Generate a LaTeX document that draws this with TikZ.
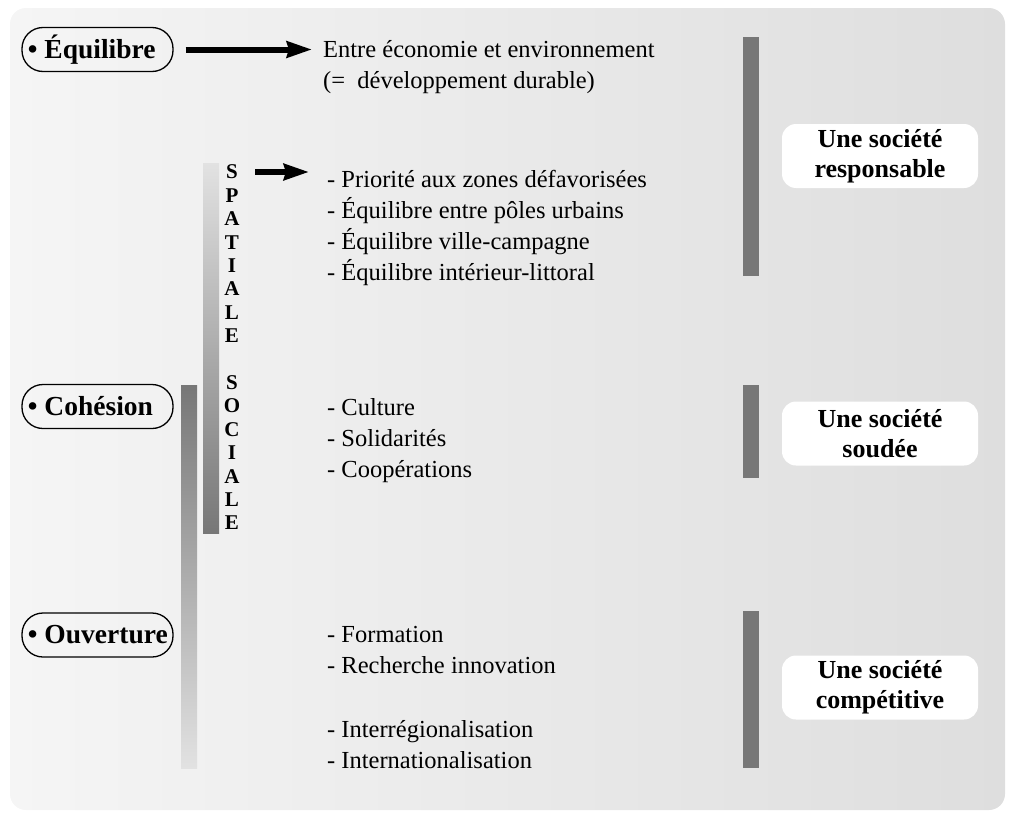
\documentclass[tikz,border=0pt]{standalone}
\usepackage{fontspec}
\setmainfont{Liberation Serif}
\usetikzlibrary{arrows.meta}
\definecolor{bgL}{HTML}{F5F5F5}
\definecolor{bgR}{HTML}{DEDEDE}
\definecolor{barD}{HTML}{777777}
\definecolor{barL}{HTML}{E2E2E2}
\begin{document}
\begin{tikzpicture}[x=1pt,y=-1pt,
  pill/.style={draw, line width=1.3pt, rounded corners=21pt, minimum width=151pt, minimum height=44pt, inner xsep=5pt, inner ysep=0pt, font=\fontsize{27.5}{30}\selectfont\bfseries},
  txt/.style={anchor=base west, inner sep=0pt, font=\fontsize{24.5}{30}\selectfont},
  soc/.style={fill=white, rounded corners=14pt, minimum width=196pt, minimum height=64pt, align=center, inner sep=0pt, font=\fontsize{26}{30}\selectfont\bfseries},
  letter/.style={font=\fontsize{21}{21}\selectfont\bfseries, inner sep=0pt},
  arr/.style={line width=6pt, -{Stealth[length=25pt,width=16pt,inset=2pt]}}]
\useasboundingbox (0,0) rectangle (1012,819);
\shade[left color=bgL, right color=bgR, rounded corners=16pt] (10,8) rectangle (1005,810);
% left gradient bars
\shade[top color=barD, bottom color=barL] (181,385) rectangle (197,768);
\shade[top color=barL, bottom color=barD] (203,163) rectangle (219,533);
% right bars
\fill[barD] (743,37) rectangle (759,276);
\fill[barD] (743,385) rectangle (759,478);
\fill[barD] (743,611) rectangle (759,768);
% pills
\node[pill] (eq) at (97.5,49.5) {\makebox[141pt][l]{\hspace{1pt}\textbullet\ Équilibre}};
\node[pill] (co) at (97.5,406.5) {\makebox[141pt][l]{\hspace{1pt}\textbullet\ Cohésion}};
\node[pill] (ou) at (97.5,635) {\makebox[141pt][l]{\hspace{1pt}\textbullet\ Ouverture}};
% vertical letters
\foreach \i/\ch in {0/S,1/P,2/A,3/T,4/I,5/A,6/L,7/E,9/S,10/O,11/C,12/I,13/A,14/L,15/E}
  \node[letter] (sp\i) at (232,172+23.4*\i) {\ch};
% texts
\node[txt] (entre) at (323,57) {Entre économie et environnement};
\node[txt] (dev) at (323,88) {(=\ \ développement durable)};
\node[txt] (prio) at (327,187) {- Priorité aux zones défavorisées};
\node[txt] (eqa) at (327,218) {- Équilibre entre pôles urbains};
\node[txt] (eqb) at (327,249) {- Équilibre ville-campagne};
\node[txt] (eqc) at (327,280) {- Équilibre intérieur-littoral};
\node[txt] (cul) at (327,415) {- Culture};
\node[txt] (sol) at (327,446) {- Solidarités};
\node[txt] (coop) at (327,477) {- Coopérations};
\node[txt] (form) at (327,642) {- Formation};
\node[txt] (rech) at (327,673) {- Recherche innovation};
\node[txt] (interr) at (327,737) {- Interrégionalisation};
\node[txt] (intern) at (327,768) {- Internationalisation};
% society boxes
\node[soc] (resp) at (880,156) {Une société\\responsable};
\node[soc] (soud) at (880,433.5) {Une société\\soudée};
\node[soc] (comp) at (880,687.5) {Une société\\compétitive};
% arrows
\draw[arr] ([xshift=12pt]eq.east) -- ([xshift=-11pt]entre.west |- eq.east);
\draw[arr] ([xshift=17pt]sp0.east) -- ([xshift=-18pt]prio.west |- sp0.east);
\end{tikzpicture}
\end{document}
